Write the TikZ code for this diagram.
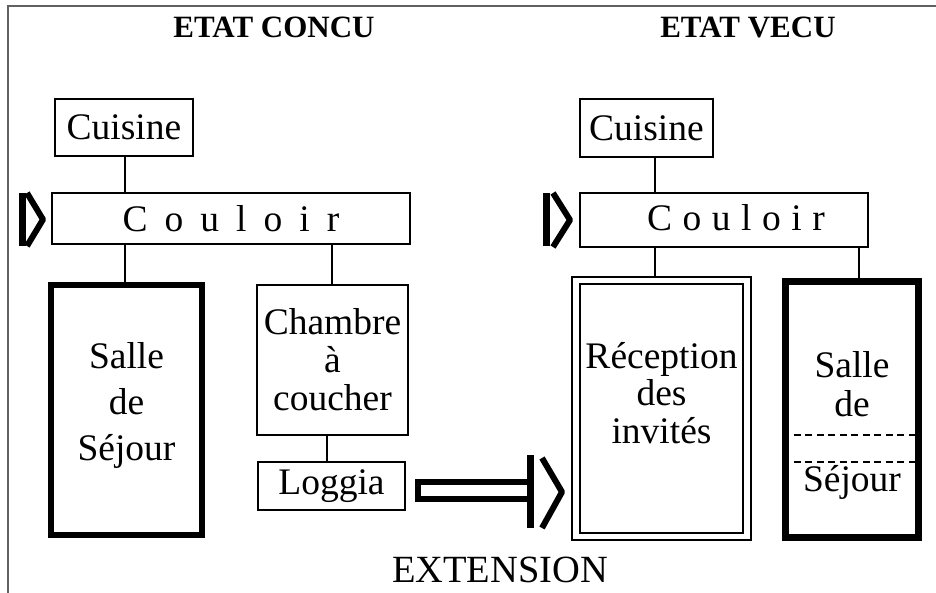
\documentclass[tikz,border=0pt]{standalone}
\usepackage{fontspec}
\setmainfont{Liberation Serif}
\begin{document}
\begin{tikzpicture}[x=1pt,y=-1pt,
  box/.style={draw, line width=1.8pt, inner sep=0pt},
  heavybox/.style={draw, line width=6.5pt, inner sep=0pt},
  lbl/.style={font=\fontsize{37.5}{38}\selectfont, align=center, inner sep=0pt},
  title/.style={font=\fontsize{31}{33}\selectfont\bfseries, inner sep=0pt, anchor=base},
  conn/.style={line width=1.8pt},
  doorbar/.style={line width=7pt},
  doorchev/.style={line width=6pt, line join=round},
]
\useasboundingbox (0,0) rectangle (936,593);
% frame
\draw[black!62, line width=2.5pt] (8,593) -- (8,6) -- (936,6);

% titles
\node[title] (t1) at (274,38) {ETAT CONCU};
\node[title] (t2) at (748,38) {ETAT VECU};

% ---------- left: etat concu
\node[box, lbl, minimum width=138, minimum height=57] (cuisL) at (124,127.5) {Cuisine};
\node[box, lbl, minimum width=358, minimum height=51] (coulL) at (231,218.5)
  {C\hspace{17pt}o\hspace{17pt}u\hspace{17pt}l\hspace{17pt}o\hspace{17pt}i\hspace{17pt}r};
\node[heavybox, minimum width=151, minimum height=250] (salleL) at (126.5,410) {};
\node[lbl, font=\fontsize{37.5}{46}\selectfont] (salleLT) at (126.5,405) {Salle\\de\\Séjour};
\node[box, lbl, minimum width=151, minimum height=150] (chambre) at (332.5,360) {Chambre\\à\\coucher};
\node[box, lbl, minimum width=147, minimum height=48] (loggia) at (331.5,486) {Loggia};

\coordinate (xa) at (125,0);
\coordinate (xb) at (332,0);
\coordinate (xc) at (327,0);
\draw[conn] (xa |- cuisL.south) -- (xa |- coulL.north);
\draw[conn] (xa |- coulL.south) -- (xa |- salleL.north);
\draw[conn] (xb |- coulL.south) -- (xb |- chambre.north);
\draw[conn] (xc |- chambre.south) -- (xc |- loggia.north);

% left door
\draw[doorbar] (22,193) -- (22,246);
\draw[doorchev] (27,193) -- (43,219.5) -- (27,246);

% ---------- right: etat vecu
\node[box, lbl, minimum width=133, minimum height=58] (cuisR) at (646.5,128) {Cuisine};
\node[box, minimum width=288, minimum height=54] (coulR) at (724,220) {};
\node[lbl] (coulRT) at (736,218)
  {C\hspace{10.5pt}o\hspace{10.5pt}u\hspace{10.5pt}l\hspace{10.5pt}o\hspace{10.5pt}i\hspace{10.5pt}r};
\node[box, minimum width=179, minimum height=263] (recep) at (661.5,408.5) {};
\node[box, minimum width=163, minimum height=249] (recepIn) at (661.5,408.5) {};
\node[lbl, font=\fontsize{37.5}{37.5}\selectfont] (recepT) at (661.5,392.7) {Réception\\des\\invités};
\node[heavybox, minimum width=133, minimum height=256] (salleR) at (852,409.5) {};
\node[lbl, font=\fontsize{37.5}{39}\selectfont] (salleRT) at (852,425) {Salle\\de\\[36pt]Séjour};
\draw[line width=1.8pt, dash pattern=on 7pt off 4.5pt] (salleR.west |- 0,435) -- (salleR.east |- 0,435);
\draw[line width=1.8pt, dash pattern=on 7pt off 4.5pt] (salleR.west |- 0,462) -- (salleR.east |- 0,462);

\coordinate (xd) at (655,0);
\coordinate (xe) at (859,0);
\draw[conn] (xd |- cuisR.south) -- (xd |- coulR.north);
\draw[conn] (xd |- coulR.south) -- (xd |- recep.north);
\draw[conn] (xe |- coulR.south) -- (xe |- salleR.north);

% right door
\draw[doorbar] (546.5,193) -- (546.5,246);
\draw[doorchev] (553,193) -- (570,220) -- (553,247);

% extension arrow
\draw[line width=6.5pt] (530.5,482) -- (418,482) -- (418,499) -- (530.5,499);
\draw[doorbar] (530.5,455) -- (530.5,528);
\draw[doorchev] (542,458) -- (562,492) -- (542,528);
\node[lbl, font=\fontsize{38.5}{40}\selectfont, anchor=base] (ext) at (500,582) {EXTENSION};
\end{tikzpicture}
\end{document}
